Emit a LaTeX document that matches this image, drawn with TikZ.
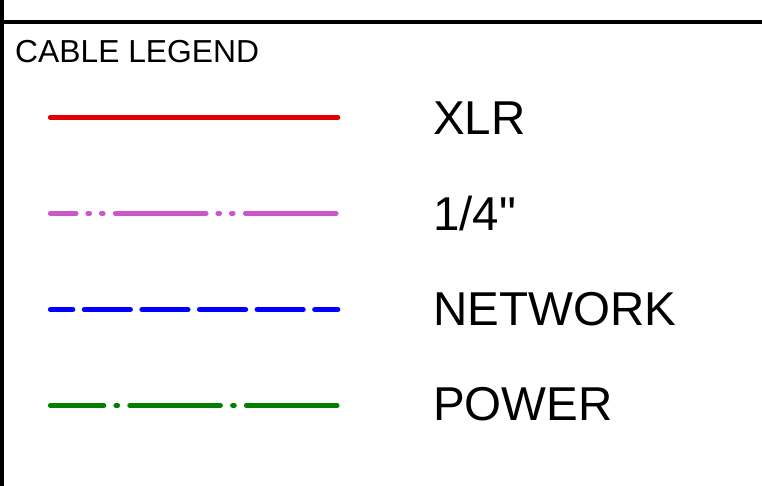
\documentclass[tikz,border=0pt]{standalone}
\usepackage{fontspec}
\setmainfont{Liberation Sans}[Ligatures=TeXOff]
\definecolor{xlrred}{HTML}{E00000}
\definecolor{trspurple}{HTML}{CC55CC}
\definecolor{netblue}{HTML}{0000FF}
\definecolor{pwrgreen}{HTML}{008000}
\tikzset{
  frameline/.style={line width=3.5pt, black},
  cable/.style={line width=5.2pt, line cap=round},
  label/.style={anchor=base west, inner sep=0pt, font=\fontsize{47.5}{56}\selectfont},
  title/.style={anchor=base west, inner sep=0pt, font=\fontsize{31.8}{38}\selectfont},
}
\begin{document}
\begin{tikzpicture}[x=1pt,y=-1pt]
\useasboundingbox (0,0) rectangle (762,486);
% frame
\coordinate (vtop) at (2.2,0);
\coordinate (vbot) at (2.2,486);
\coordinate (hl) at (0,22);
\coordinate (hr) at (762,22);
\draw[frameline] (vtop) -- (vbot);
\draw[frameline] (hl) -- (hr);
% title
\node[title] (title) at (15,62.5) {CABLE LEGEND};
% cables
\coordinate (a1) at (50.5,117.5);  \coordinate (a2) at (337.75,117.5);
\coordinate (b1) at (50.5,213.5);  \coordinate (b2) at (337.75,213.5);
\coordinate (c1) at (50.5,309.5);  \coordinate (c2) at (337.75,309.5);
\coordinate (d1) at (50.5,405.5);  \coordinate (d2) at (337.75,405.5);
\draw[cable, xlrred] (a1) -- (a2);
\draw[cable, trspurple, dash pattern=on 90.5pt off 12pt on 1.5pt off 12pt on 1.5pt off 12.5pt, dash phase=65pt] (b1) -- (b2);
\draw[cable, netblue, dash pattern=on 46pt off 11.6pt, dash phase=23.75pt] (c1) -- (c2);
\draw[cable, pwrgreen, dash pattern=on 90.5pt off 12.3pt on 1.5pt off 12.3pt, dash phase=37.25pt] (d1) -- (d2);
% labels
\node[label] (xlr) at (433,135) {XLR};
\node[label] (trs) at (433,230) {1/4"};
\node[label] (net) at (433,325) {NETWORK};
\node[label] (pwr) at (433,420) {POWER};
\end{tikzpicture}
\end{document}
